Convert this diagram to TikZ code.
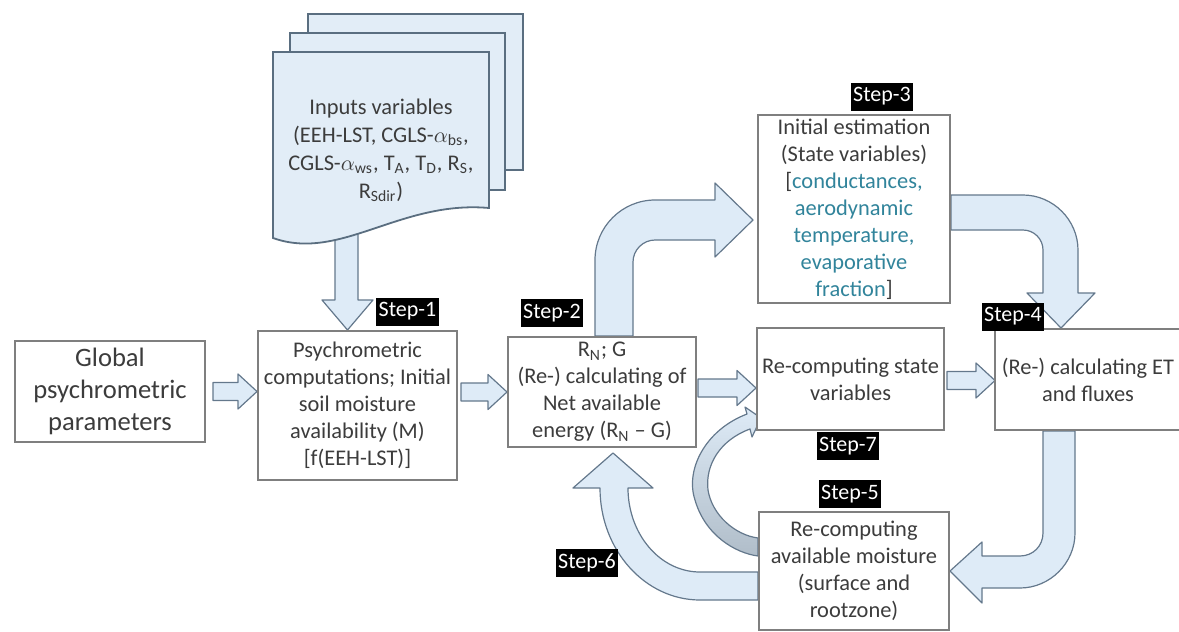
\documentclass[tikz,border=0pt]{standalone}
\usepackage{fontspec}
\setmainfont{Carlito}
\usetikzlibrary{calc}
\pgfdeclarelayer{bg}
\pgfsetlayers{bg,main}

\definecolor{boxgray}{RGB}{127,127,127}
\definecolor{txtgray}{RGB}{60,60,60}
\definecolor{fatfill}{RGB}{222,235,247}
\definecolor{fatline}{RGB}{100,120,140}
\definecolor{docfill}{RGB}{226,237,247}
\definecolor{docline}{RGB}{90,110,128}
\definecolor{statecol}{RGB}{49,132,155}
\definecolor{crescent}{RGB}{176,189,201}

% fat arrow to the right: [gap] from-anchor, tip
\newcommand\fatright[3][3]{%
  \coordinate (fb) at (#3);
  \coordinate (fa) at ($(#2 |- fb)+(#1,0)$);
  \filldraw[blockarrow] ($(fa)+(0,-9)$) -- ($(fb)+(-19,-9)$) -- ($(fb)+(-19,-17.5)$) -- (fb)
    -- ($(fb)+(-19,17.5)$) -- ($(fb)+(-19,9)$) -- ($(fa)+(0,9)$) -- cycle;}

\begin{document}
\begin{tikzpicture}[x=0.5pt,y=-0.5pt,
  box/.style={draw=boxgray,line width=1pt,fill=white,align=center,text=txtgray,
    inner sep=1pt,font=\fontsize{11.2}{13.5}\selectfont},
  stepbox/.style={fill=black,text=white,inner xsep=1.2pt,inner ysep=1pt,
    minimum height=14pt,font=\fontsize{11}{13}\selectfont},
  blockarrow/.style={fill=fatfill,draw=fatline,line width=0.6pt,line join=round},
  sheet/.style={fill=docfill,draw=docline,line width=0.9pt}]

\useasboundingbox (0,0) rectangle (1179,632);
\clip (0,0) rectangle (1179,632);

% input sheets
\draw[sheet] (308,14) rectangle (523,170);
\draw[sheet] (290,33) rectangle (505,190);
\draw[sheet] (273,52) -- (489,52) -- (489,208) .. controls (400,200) and (340,262) .. (273,238) -- cycle;
\node[text=txtgray,align=center,font=\fontsize{11.2}{14}\selectfont] (inp) at (381,150)
  {Inputs variables\\(EEH-LST, CGLS-$\alpha$\textsubscript{bs},\\CGLS-$\alpha$\textsubscript{ws}, T\textsubscript{A}, T\textsubscript{D}, R\textsubscript{S},\\R\textsubscript{Sdir})};

% boxes
\node[box,minimum width=95pt,minimum height=50.5pt,font=\fontsize{13.3}{15.8}\selectfont] (glob) at (110,391.5)
  {Global\\psychrometric\\parameters};
\node[box,minimum width=99.5pt,minimum height=74.5pt] (psy) at (357.5,405.5)
  {Psychrometric\\computations; Initial\\soil moisture\\availability (M)\\{[}f(EEH-LST){]}};
\node[box,minimum width=94pt,minimum height=55pt] (net) at (602,392)
  {R\textsubscript{N}; G\\(Re-) calculating of\\Net available\\energy (R\textsubscript{N} -- G)};
\node[box,minimum width=93.5pt,minimum height=51pt] (state) at (850.5,379)
  {Re-computing state\\variables};
\node[box,minimum width=93pt,minimum height=50.5pt] (et) at (1088,379.5)
  {(Re-) calculating ET\\and fluxes};
\node[box,minimum width=96pt,minimum height=94pt,inner ysep=0pt] (init) at (854,209)
  {Initial estimation\\(State variables)\\{[}\textcolor{statecol}{conductances,}\\\textcolor{statecol}{aerodynamic}\\\textcolor{statecol}{temperature,}\\\textcolor{statecol}{evaporative}\\\textcolor{statecol}{fraction}{]}};
\node[box,minimum width=95pt,minimum height=59pt] (moist) at (854,571)
  {Re-computing\\available moisture\\(surface and\\rootzone)};

% step labels
\node[stepbox] (s1) at (407.5,311.5) {Step-1};
\node[stepbox] (s2) at (552,313) {Step-2};
\node[stepbox] (s3) at (882,96.5) {Step-3};
\node[stepbox] (s4) at (1013,316.5) {Step-4};
\node[stepbox] (s5) at (850,494) {Step-5};
\node[stepbox] (s6) at (587,563) {Step-6};
\node[stepbox] (s7) at (848,446) {Step-7};

\begin{pgfonlayer}{bg}
% straight arrows
\filldraw[blockarrow] (335,230) -- (335,300) -- (322,300) -- ($(psy.north)+(-10,0)$)
  -- (373,300) -- (358,300) -- (358,230) -- cycle;
\fatright[7]{glob.east}{psy.west |- glob.east}
\fatright[3]{psy.east}{net.west}
\fatright[1]{net.east}{$(state.west)+(0,9)$}
\fatright[2]{state.east}{$(et.west)+(1,1)$}

% step-2 up to step-3
\filldraw[blockarrow] ($(net.north)+(-7,0)$) -- (595,260) .. controls (595,227) and (622,200) .. (655,200)
  -- (715,200) -- (715,183) -- ($(init.west)+(-4,11)$) -- (715,257) -- (715,240) -- (655,240)
  .. controls (643,240) and (633,250) .. (633,262) -- ($(net.north)+(31,0)$) -- cycle;

% step-3 down to step-4
\filldraw[blockarrow] ($(init.east)+(0,-14)$) -- (1023,195) .. controls (1053,195) and (1078,220) .. (1078,250)
  -- (1078,293) -- (1095,293) -- ($(et.north)+(-27,0)$) -- (1027,293) -- (1043,293) -- (1043,250)
  .. controls (1043,239) and (1034,230) .. (1023,230) -- ($(init.east)+(0,21)$) -- cycle;

% step-4 down to step-5
\filldraw[blockarrow] ($(et.south)+(-45,0)$) -- ($(et.south)+(-13,0)$) -- (1075,533)
  .. controls (1075,563) and (1050,588) .. (1020,588) -- (982,588) -- (982,603) -- (moist.east)
  -- (982,542) -- (982,556) -- (1020,556) .. controls (1033,556) and (1043,546) .. (1043,533) -- cycle;

% step-6 back to net energy
\filldraw[blockarrow] ($(moist.west)+(0,1)$) -- (700,572) .. controls (660,572) and (628,534) .. (628,488)
  -- (653,488) -- ($(net.south)+(11,5)$) -- (573,488) -- (600,488)
  .. controls (600,550) and (645,600) .. (700,600) -- ($(moist.west)+(0,29)$) -- cycle;

% step-7 back to state variables
\shadedraw[top color=fatfill,bottom color=crescent,draw=fatline,line width=0.6pt,line join=round]
  ($(moist.west)+(0,-15)$) .. controls (735,553) and (705,535) .. (695,500)
  .. controls (685,470) and (705,430) .. (747,414) -- (745,407) -- ($(state.south west)+(5,-13)$)
  -- (752,437) -- (750,429) .. controls (720,440) and (705,465) .. (708,490)
  .. controls (712,515) and (735,535) .. ($(moist.west)+(0,-33)$) -- cycle;
\end{pgfonlayer}

\end{tikzpicture}
\end{document}
